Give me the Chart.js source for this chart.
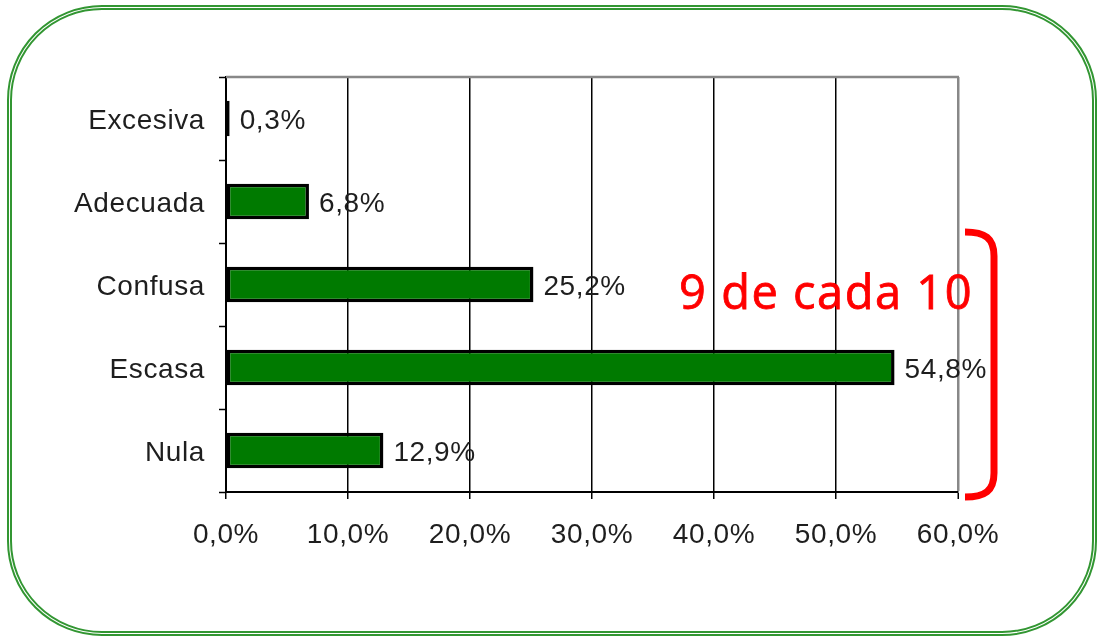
<!DOCTYPE html>
<html>
<head>
<meta charset="utf-8">
<script src="https://cdn.jsdelivr.net/npm/chart.js@4/dist/chart.umd.min.js"></script>
<style>
  html, body { margin: 0; padding: 0; background: #fff; }
  #wrap { position: relative; width: 1097px; height: 637px; overflow: hidden; }
  #frame { position: absolute; left: 7px; top: 5px; width: 1090px; height: 631px;
           box-sizing: border-box; border: 5px double rgb(50,150,50); border-radius: 95px; }
  #cv { position: absolute; left: 0; top: 0; }
</style>
</head>
<body>
<div id="wrap">
  <div id="frame"></div>
  <canvas id="cv" width="1097" height="637"></canvas>
</div>
<script>
const categories = ["Excesiva", "Adecuada", "Confusa", "Escasa", "Nula"];
const values = [0.3, 6.8, 25.2, 54.8, 12.9];
const xTicks = [0, 10, 20, 30, 40, 50, 60];
const noteText = "9 de cada 10";

const fmt = v => v.toFixed(1).replace('.', ',') + '%';
const FONT = "'Liberation Sans', Arial, sans-serif";

const decorPlugin = {
  id: 'decor',
  beforeDraw(chart) {
    if ('letterSpacing' in chart.ctx) chart.ctx.letterSpacing = '0.6px';
  },
  beforeDatasetsDraw(chart) {
    const { ctx, chartArea } = chart;
    ctx.save();
    ctx.strokeStyle = '#888';
    ctx.lineWidth = 2.5;
    ctx.beginPath();
    ctx.moveTo(chartArea.left, chartArea.top);
    ctx.lineTo(chartArea.right + 1, chartArea.top);
    ctx.stroke();
    ctx.restore();
  },
  afterDatasetsDraw(chart) {
    const { ctx } = chart;
    const meta = chart.getDatasetMeta(0);
    ctx.save();
    ctx.fillStyle = '#1e1e1e';
    ctx.font = '28px ' + FONT;
    ctx.textBaseline = 'middle';
    ctx.textAlign = 'left';
    meta.data.forEach((bar, i) => {
      ctx.fillText(fmt(values[i]), bar.x + 10, bar.y + 3);
    });
    ctx.restore();
  },
  afterDraw(chart) {
    const { ctx, chartArea, scales } = chart;
    const y = scales.y;
    const band = (y.getPixelForValue(1) - y.getPixelForValue(0));
    const confTop = y.getPixelForValue(2) - band / 2;
    const top = confTop - 11;
    const bottom = chartArea.bottom + 5;
    const x0 = chartArea.right + 7;
    const x1 = chartArea.right + 36;
    ctx.save();
    ctx.strokeStyle = '#ff0000';
    ctx.lineWidth = 7;
    ctx.lineCap = 'butt';
    ctx.beginPath();
    ctx.moveTo(x0, top);
    ctx.bezierCurveTo(x0 + 20, top, x1, top + 6, x1, top + 24);
    ctx.lineTo(x1, bottom - 24);
    ctx.bezierCurveTo(x1, bottom - 6, x0 + 20, bottom, x0, bottom);
    ctx.stroke();
    // note text
    ctx.fillStyle = '#ff0000';
    ctx.strokeStyle = '#ff0000';
    ctx.lineWidth = 0.8;
    ctx.font = "47px 'Open Sans', sans-serif";
    if ('letterSpacing' in ctx) ctx.letterSpacing = '1.5px';
    ctx.textAlign = 'right';
    ctx.textBaseline = 'alphabetic';
    const tx = chartArea.right + 15, ty = y.getPixelForValue(2) + 24;
    ctx.fillText(noteText, tx, ty);
    ctx.strokeText(noteText, tx, ty);
    ctx.restore();
  }
};

new Chart(document.getElementById('cv'), {
  type: 'bar',
  data: {
    labels: categories,
    datasets: [{
      data: values,
      backgroundColor: '#007a00',
      borderColor: '#000',
      borderWidth: 3.5,
      borderSkipped: false,
      barPercentage: 0.43,
      categoryPercentage: 1
    }]
  },
  options: {
    indexAxis: 'y',
    responsive: false,
    animation: false,
    devicePixelRatio: 1,
    layout: { padding: { left: 0, top: 77, right: 139, bottom: 0 } },
    plugins: { legend: { display: false }, tooltip: { enabled: false } },
    scales: {
      x: {
        min: 0, max: 60,
        afterFit(s) { s.height = 145; },
        afterBuildTicks(s) { s.ticks = xTicks.map(v => ({ value: v })); },
        ticks: {
          callback: v => fmt(v),
          color: '#1e1e1e',
          font: { size: 28, family: FONT },
          padding: 19,
          maxRotation: 0
        },
        grid: {
          color: c => (c.tick && c.tick.value === 60) ? '#888' : '#000',
          lineWidth: c => (c.tick && c.tick.value === 60) ? 2.5 : 1.5,
          tickColor: '#000',
          tickWidth: 1.5,
          tickLength: 7,
          drawTicks: true
        },
        border: { display: true, color: '#000', width: 2 }
      },
      y: {
        afterFit(s) { s.width = 226; },
        ticks: {
          color: '#1e1e1e',
          font: { size: 28, family: FONT },
          padding: 14,
          labelOffset: 3
        },
        grid: {
          drawOnChartArea: false,
          drawTicks: true,
          tickLength: 7,
          tickColor: '#000',
          tickWidth: 1.5,
          offset: true
        },
        border: { display: true, color: '#000', width: 2 }
      }
    }
  },
  plugins: [decorPlugin]
});
</script>
</body>
</html>
